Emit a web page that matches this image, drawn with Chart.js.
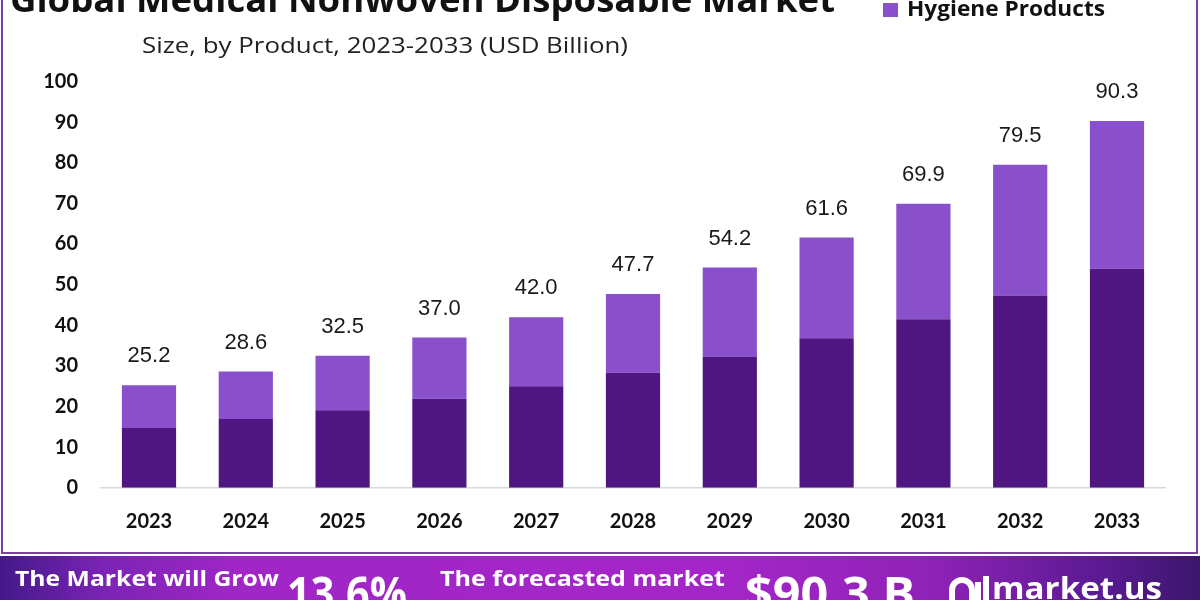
<!DOCTYPE html>
<html><head><meta charset="utf-8">
<script src="https://cdn.jsdelivr.net/npm/chart.js@4.4.1/dist/chart.umd.min.js"></script>
<style>
html,body{margin:0;padding:0;background:#fff;width:1200px;height:600px;overflow:hidden;}
#wrap{position:relative;width:1200px;height:600px;}
#c{position:absolute;left:0;top:0;}
#ov{position:absolute;left:0;top:0;}
</style></head>
<body><div id="wrap">
<canvas id="c" width="1200" height="555"></canvas>
<svg id="ov" width="1200" height="600" xmlns="http://www.w3.org/2000/svg">
  <defs>
    <linearGradient id="bg" x1="0" y1="0" x2="1" y2="0">
      <stop offset="0" stop-color="#44198a"/>
      <stop offset="0.09" stop-color="#7d24b6"/>
      <stop offset="0.2" stop-color="#a026c6"/>
      <stop offset="0.6" stop-color="#a526c8"/>
      <stop offset="0.78" stop-color="#8e22b6"/>
      <stop offset="0.92" stop-color="#5a1a92"/>
      <stop offset="1" stop-color="#3c166c"/>
    </linearGradient>
  </defs>
  <rect x="2" y="-5" width="1195" height="558" fill="none" stroke="#7d3fa6" stroke-width="2"/>
  <rect x="0" y="556" width="1200" height="44" fill="url(#bg)"/>
  <g id="txt"></g>
</svg>
</div>
<script>
// ---- data ----
const years = ['2023','2024','2025','2026','2027','2028','2029','2030','2031','2032','2033'];
const lowerSeries = [14.7, 16.9, 19.1, 21.9, 25.0, 28.3, 32.3, 36.8, 41.5, 47.3, 53.9];
const hygieneSeries = [10.5, 11.7, 13.4, 15.1, 17.0, 19.4, 21.9, 24.8, 28.4, 32.2, 36.4];
const totals = [25.2, 28.6, 32.5, 37.0, 42.0, 47.7, 54.2, 61.6, 69.9, 79.5, 90.3];
const yTicks = [0,10,20,30,40,50,60,70,80,90,100];
const seriesNames = ['Medical Products', 'Hygiene Products'];
const titleText = 'Global Medical Nonwoven Disposable Market';
const subtitleText = 'Size, by Product, 2023-2033 (USD Billion)';

const DARK = '#4f1682', LIGHT = '#8a4fcb';

const labelPlugin = {
  id: 'totals',
  afterDatasetsDraw(chart) {
    const ctx = chart.ctx;
    const meta = chart.getDatasetMeta(1);
    ctx.save();
    ctx.font = '22px "Liberation Sans", Arial, sans-serif';
    ctx.fillStyle = '#1a1a1a';
    ctx.textAlign = 'center';
    ctx.textBaseline = 'middle';
    meta.data.forEach((el, i) => {
      ctx.fillText(totals[i].toFixed(1), el.x, el.y - 29);
    });
    ctx.restore();
  }
};

new Chart(document.getElementById('c'), {
  type: 'bar',
  data: {
    labels: years,
    datasets: [
      { label: seriesNames[0], data: lowerSeries, backgroundColor: DARK, borderWidth: 0 },
      { label: seriesNames[1], data: hygieneSeries, backgroundColor: LIGHT, borderWidth: 0 }
    ]
  },
  options: {
    responsive: false,
    animation: false,
    devicePixelRatio: 1,
    layout: { padding: { top: 81.6, right: 34.6, left: 0, bottom: 0 } },
    plugins: { legend: { display: false }, tooltip: { enabled: false } },
    datasets: { bar: { categoryPercentage: 1, barPercentage: 0.56 } },
    scales: {
      x: {
        stacked: true,
        grid: { display: false, drawTicks: false },
        border: { display: true, color: '#d9d9d9', width: 1.5 },
        ticks: { color: '#111', font: { family: 'Lato', weight: 'bold', size: 20 }, padding: 22 },
        afterFit(s) { s.height = 555 - 487.7; }
      },
      y: {
        stacked: true,
        min: 0, max: 100,
        afterBuildTicks(s) { s.ticks = yTicks.map(v => ({ value: v })); },
        grid: { display: false, drawTicks: false },
        border: { display: false },
        ticks: { color: '#111', font: { family: 'Lato', weight: 'bold', size: 20 }, padding: 22.6 },
        afterFit(s) { s.width = 100.6; }
      }
    }
  },
  plugins: [labelPlugin]
});

// ---- overlay texts ----
const NS = 'http://www.w3.org/2000/svg';
const g = document.getElementById('txt');
function T(str, x, y, w, size, weight, fill, family) {
  const t = document.createElementNS(NS, 'text');
  t.setAttribute('x', x); t.setAttribute('y', y);
  t.setAttribute('font-size', size);
  t.setAttribute('font-weight', weight);
  t.setAttribute('fill', fill);
  t.setAttribute('font-family', family || '"Open Sans", "Noto Sans", sans-serif');
  if (w) { t.setAttribute('textLength', w); t.setAttribute('lengthAdjust', 'spacingAndGlyphs'); }
  t.textContent = str;
  g.appendChild(t);
  return t;
}
T(titleText, 10, 12, 825, 36, 'bold', '#111');
T(subtitleText, 142, 53, 486, 22, 'normal', '#222');
const lg = document.createElementNS(NS, 'rect');
lg.setAttribute('x', 883); lg.setAttribute('y', 3); lg.setAttribute('width', 15); lg.setAttribute('height', 14);
lg.setAttribute('fill', LIGHT); g.appendChild(lg);
T(seriesNames[1], 907, 16, 198, 21, 'bold', '#111');

T('The Market will Grow', 15, 586, 264, 22, 'bold', '#fff');
T('13.6%', 287, 610, 120, 46, 'bold', '#fff');
T('The forecasted market', 440, 586, 285, 22, 'bold', '#fff');
T('$90.3 B', 745, 610, 170, 46, 'bold', '#fff');
// logo mark
const lp = document.createElementNS(NS, 'path');
lp.setAttribute('d', 'M952 600 L952 590 A10 10 0 0 1 972 590 L972 600 M978 600 L978 582 M986 600 L986 576');
lp.setAttribute('stroke', '#fff'); lp.setAttribute('stroke-width', 6); lp.setAttribute('fill', 'none');
g.appendChild(lp);
T('market.us', 992, 599, 170, 30, 'bold', '#fff');
</script>
</body></html>
